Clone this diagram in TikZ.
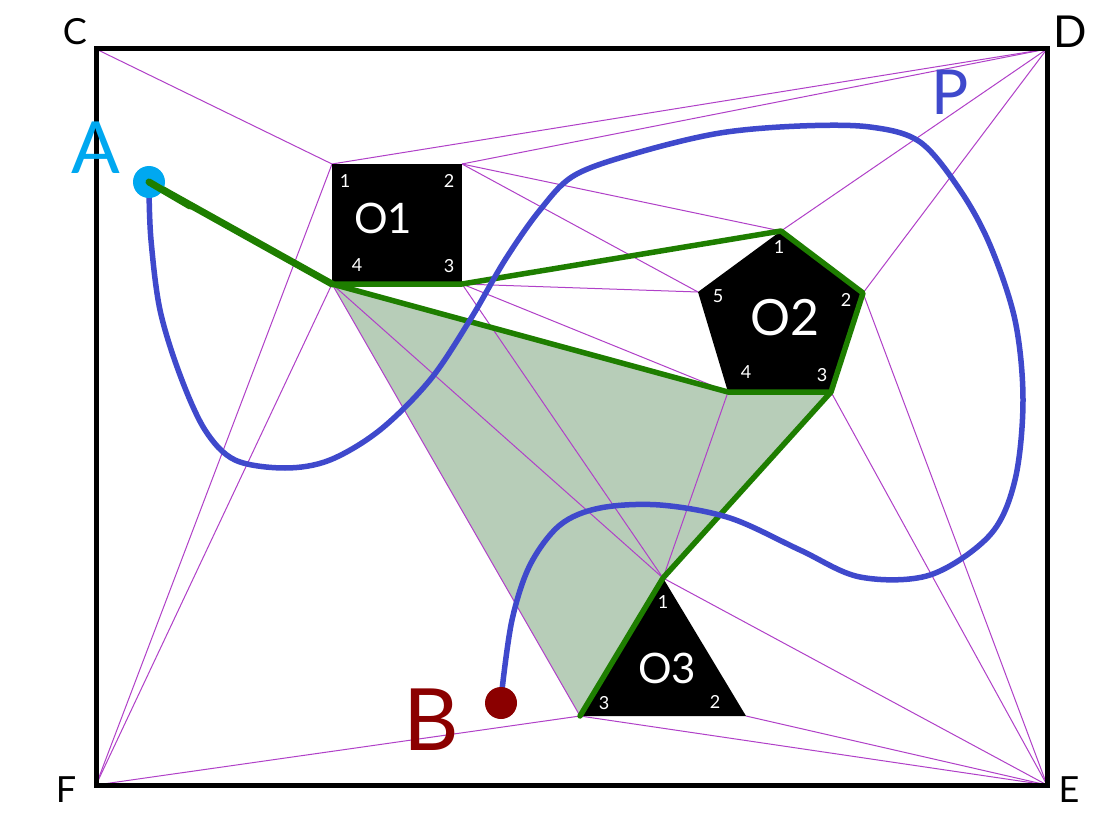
\documentclass[tikz,border=0pt]{standalone}
\usepackage{fontspec}
\setmainfont{Lato}
\definecolor{vis}{HTML}{B040C8}
\definecolor{pathgreen}{HTML}{1E7E00}
\definecolor{regionfill}{HTML}{B7CDB8}
\definecolor{curveblue}{HTML}{3F49CC}
\definecolor{dotblue}{HTML}{00A8F0}
\definecolor{dotred}{HTML}{8B0000}
\tikzset{
  visline/.style={vis,line width=1pt},
  gline/.style={pathgreen,line width=5.5pt,line join=round,line cap=round},
  obstacle/.style={fill=black,draw=none},
  framebox/.style={draw=black,line width=5pt,line join=miter},
  corner/.style={font=\fontsize{36}{36}\selectfont,inner sep=0pt,text=black},
  bigname/.style={font=\fontsize{42}{42}\selectfont,inner sep=0pt,text=white},
  vnum/.style={font=\fontsize{18}{18}\selectfont,inner sep=0pt,text=white},
}
\begin{document}
\begin{tikzpicture}[x=1pt,y=-1pt]
\path[use as bounding box,fill=white] (0,0) rectangle (1098,829);
% frame corners
\coordinate (C) at (96,49);
\coordinate (D) at (1047,49);
\coordinate (E) at (1047,785);
\coordinate (F) at (96,785);
% obstacle O1
\coordinate (a1) at (332,164);
\coordinate (a2) at (462,164);
\coordinate (a3) at (462,284);
\coordinate (a4) at (332,284);
% obstacle O2
\coordinate (b1) at (781,231);
\coordinate (b2) at (863,293);
\coordinate (b3) at (831,392);
\coordinate (b4) at (728,392);
\coordinate (b5) at (698,292);
% obstacle O3
\coordinate (c1) at (663,578);
\coordinate (c2) at (746,716);
\coordinate (c3) at (580,716);
% start
\coordinate (S) at (149,182);
\coordinate (T) at (501,703);
% shaded region
\fill[regionfill] (a4) -- (b4) -- (b3) -- (c1) -- (c3) -- cycle;
% visibility lines
\foreach \p/\q in {C/a1,a1/F,a4/F,a1/D,a2/D,b1/D,b2/D,a2/b1,a2/b5,a3/b5,a3/b4,a3/c1,a4/c1,a4/c3,b4/c1,b2/E,b3/E,c1/E,c2/E,c3/E,c3/F}
  \draw[visline] (\p) -- (\q);
% obstacles
\fill[obstacle] (a1) -- (a2) -- (a3) -- (a4) -- cycle;
\fill[obstacle] (b1) -- (b2) -- (b3) -- (b4) -- (b5) -- cycle;
\fill[obstacle] (c1) -- (c2) -- (c3) -- cycle;
% frame
\draw[framebox] (C) rectangle (E);
% green shortest-path tree
\draw[gline,line width=7pt] (S) -- (a4);
\draw[gline] (a4) -- (a3) -- (b1) -- (b2) -- (b3);
\draw[gline] (a4) -- (b4) -- (b3) -- (c1) -- (c3);
% blue curve
\draw[curveblue,line width=5.5pt,line join=round,line cap=round] plot[smooth,tension=0.55] coordinates {
 (149,190) (151,240) (160,310) (180,375) (205,430) (235,460) (285,468) (330,460) (380,430) (430,380)
 (470,320) (505,260) (540,210) (575,175) (640,152) (720,133) (800,126) (870,127) (920,142) (960,190)
 (990,245) (1015,320) (1023,400) (1015,480) (990,535) (930,575) (860,577) (800,550) (730,518) (660,505)
 (600,508) (560,525) (530,565) (512,620) (502,690)};
% end points
\fill[dotblue] (S) circle (16);
\draw[gline,line width=7pt] (S) -- (190,206);
\fill[dotred] (T) circle (16);
% labels
\node[corner] (lc) at (75,32) {C};
\node[corner,font=\fontsize{44}{44}\selectfont] (ld) at (1070,32) {D};
\node[corner] (le) at (1069,790) {E};
\node[corner] (lf) at (66,790) {F};
\node[corner,text=dotblue,font=\fontsize{72}{72}\selectfont] (la) at (96,148) {A};
\node[corner,text=dotred,font=\fontsize{86}{86}\selectfont] (lb) at (431,720) {B};
\node[corner,text=curveblue,font=\fontsize{62}{62}\selectfont] (lp) at (950,92) {P};
\node[bigname] (o1) at (383,218) {O1};
\node[bigname,font=\fontsize{50}{50}\selectfont] (o2) at (785,318) {O2};
\node[bigname] (o3) at (667,668) {O3};
\node[vnum] (n11) at (345,181) {1};
\node[vnum] (n12) at (449,181) {2};
\node[vnum] (n13) at (449,266) {3};
\node[vnum] (n14) at (357,265) {4};
\node[vnum] (n21) at (779,247) {1};
\node[vnum] (n22) at (846,300) {2};
\node[vnum] (n23) at (822,375) {3};
\node[vnum] (n24) at (746,372) {4};
\node[vnum] (n25) at (718,296) {5};
\node[vnum] (n31) at (663,602) {1};
\node[vnum] (n32) at (715,702) {2};
\node[vnum] (n33) at (604,703) {3};
\end{tikzpicture}
\end{document}
